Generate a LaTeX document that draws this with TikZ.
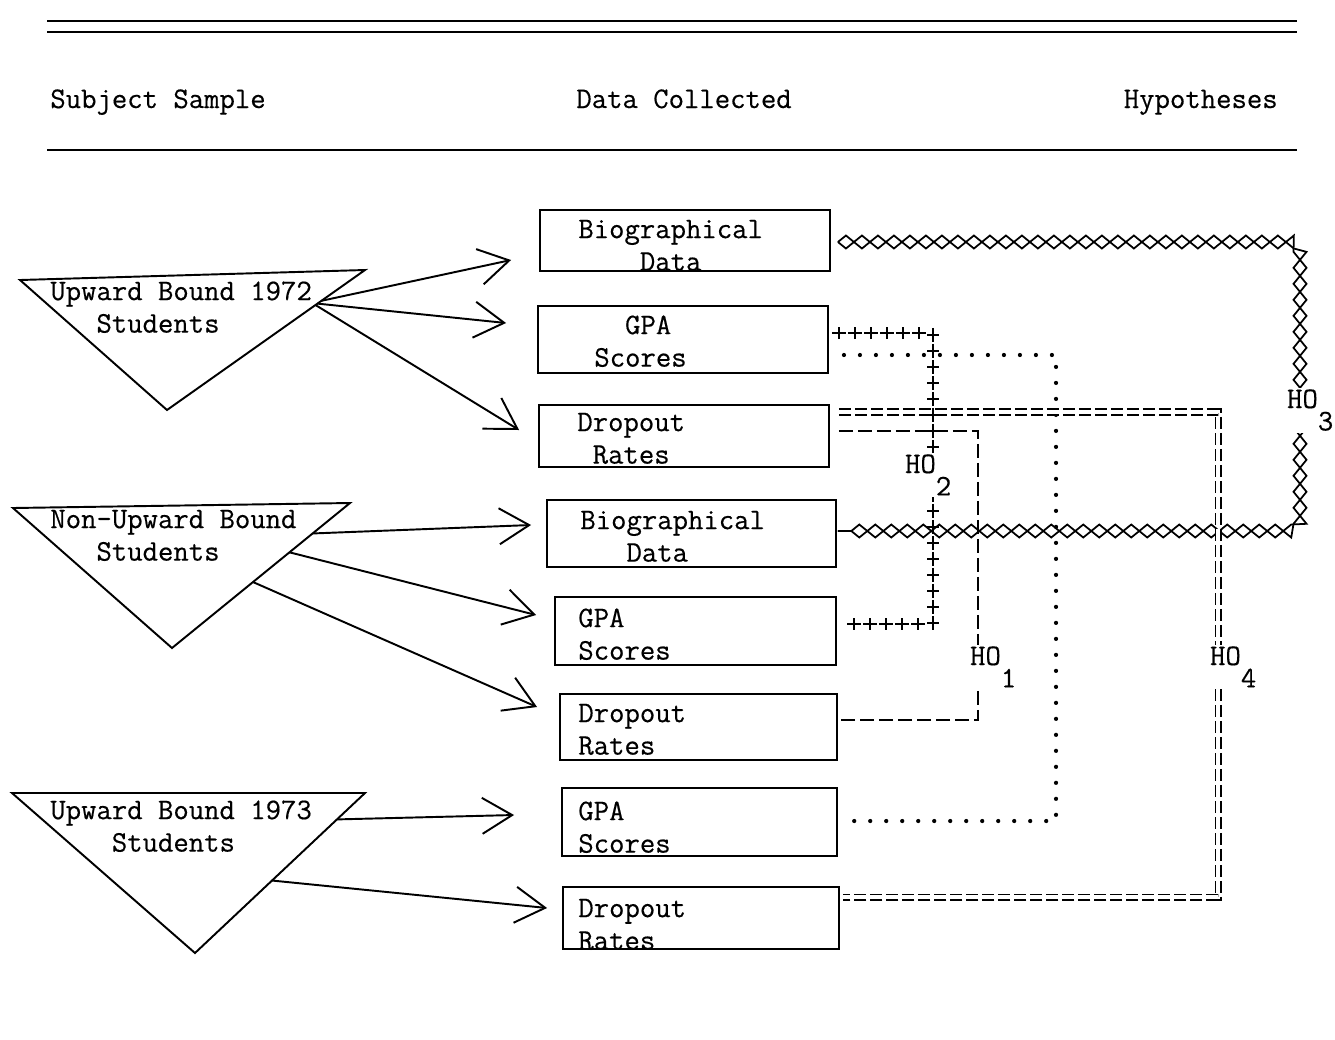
\documentclass[tikz,border=0pt]{standalone}
\usepackage{fontspec}
\setmonofont{Latin Modern Mono}[FakeBold=0.4]
\usetikzlibrary{arrows.meta,calc,decorations.pathmorphing,decorations.markings}
\begin{document}
\begin{tikzpicture}[x=0.02cm,y=-0.02cm,
 tt/.style={font=\ttfamily\fontsize{17}{18.5}\selectfont,inner sep=0pt},
 rule/.style={line width=1.3pt},
 sample/.style={line width=1.1pt},
 databox/.style={draw,line width=1.1pt,inner sep=0pt},
 feed/.style={line width=1.1pt,-{Straight Barb[length=0.6cm,width=0.72cm]}},
 holabel/.style={tt,fill=white,inner sep=1pt,anchor=base west},
 xline/.style={postaction={draw,line width=1pt,decorate,decoration={zigzag,segment length=0.64cm,amplitude=0.13cm}},
  postaction={draw,line width=1pt,decorate,decoration={zigzag,segment length=0.64cm,amplitude=0.13cm,mirror}}},
 plusline/.style={postaction={decorate,decoration={markings,mark=between positions 0 and 1 step 0.32cm with {\draw[line width=1.1pt] (-0.14cm,0pt) -- (0.14cm,0pt) (0pt,-0.12cm) -- (0pt,0.12cm);}}}},
 dotline/.style={line width=2.4pt,line cap=round,dash pattern=on 0pt off 0.32cm},
 dashline/.style={line width=1.2pt,dash pattern=on 0.28cm off 0.1cm},
 dblline/.style={double,line width=0.9pt,double distance=2.2pt,dash pattern=on 0.24cm off 0.08cm}]
 \useasboundingbox (0,0) rectangle (1335,1039);
 \draw[rule] (47,21) -- (1297,21);
 \draw[rule] (47,32) -- (1297,32);
 \draw[rule] (47,150) -- (1297,150);
 \node[tt,anchor=base west] (subj) at (50,108) {Subject Sample};
 \node[tt,anchor=base west] (coll) at (576,108) {Data Collected};
 \node[tt,anchor=base east] (hyps) at (1278,108) {Hypotheses};

 \coordinate (ub72l) at (20,280); \coordinate (ub72r) at (365,270); \coordinate (ub72b) at (167,410);
 \coordinate (nubl) at (13,508); \coordinate (nubr) at (350,503); \coordinate (nubb) at (172,648);
 \coordinate (ub73l) at (12,793); \coordinate (ub73r) at (365,793); \coordinate (ub73b) at (195,953);
 \draw[sample] (ub72l) -- (ub72r) -- (ub72b) -- cycle;
 \draw[sample] (nubl) -- (nubr) -- (nubb) -- cycle;
 \draw[sample] (ub73l) -- (ub73r) -- (ub73b) -- cycle;
 \node[tt,anchor=north west,align=left] (ub72) at (50,277) {\strut Upward Bound 1972\\\strut\phantom{xxx}Students};
 \node[tt,anchor=north west,align=left] (nub) at (50,505) {\strut Non-Upward Bound\\\strut\phantom{xxx}Students};
 \node[tt,anchor=north west,align=left] (ub73) at (50,796) {\strut Upward Bound 1973\\\strut\phantom{xxxx}Students};

 \node[databox,minimum width=5.8cm,minimum height=1.22cm] (bio72) at (685,240.5) {};
 \node[databox,minimum width=5.8cm,minimum height=1.34cm] (gpa72) at (683,339.5) {};
 \node[databox,minimum width=5.8cm,minimum height=1.24cm] (drop72) at (684,436) {};
 \node[databox,minimum width=5.78cm,minimum height=1.34cm] (bionub) at (691.5,533.5) {};
 \node[databox,minimum width=5.62cm,minimum height=1.36cm] (gpanub) at (695.5,631) {};
 \node[databox,minimum width=5.54cm,minimum height=1.32cm] (dropnub) at (698.5,727) {};
 \node[databox,minimum width=5.5cm,minimum height=1.36cm] (gpa73) at (699.5,822) {};
 \node[databox,minimum width=5.52cm,minimum height=1.24cm] (drop73) at (701,918) {};
 \node[tt,anchor=north west,align=left] (bio72t) at (578,215) {\strut Biographical\\\strut\phantom{xxxx}Data};
 \node[tt,anchor=north west,align=left] (gpa72t) at (594,311) {\strut\phantom{xx}GPA\\\strut Scores};
 \node[tt,anchor=north west,align=left] (drop72t) at (577,408) {\strut Dropout\\\strut\phantom{x}Rates};
 \node[tt,anchor=north west,align=left] (bionubt) at (580,506) {\strut Biographical\\\strut\phantom{xxx}Data};
 \node[tt,anchor=north west,align=left] (gpanubt) at (578,604) {\strut GPA\\\strut Scores};
 \node[tt,anchor=north west,align=left] (dropnubt) at (578,699) {\strut Dropout\\\strut Rates};
 \node[tt,anchor=north west,align=left] (gpa73t) at (578,797) {\strut GPA\\\strut Scores};
 \node[tt,anchor=north west,align=left] (drop73t) at (578,894) {\strut Dropout\\\strut Rates};

 \draw[feed] ($(ub72r)!0.22!(ub72b)$) -- ($(bio72.west)+(-28,19.5)$);
 \draw[feed] ($(ub72r)!0.24!(ub72b)$) -- ($(gpa72.west)+(-31,-16.5)$);
 \draw[feed] ($(ub72r)!0.25!(ub72b)$) -- ($(drop72.west)+(-19,-6)$);
 \draw[feed] ($(nubr)!0.21!(nubb)$) -- ($(bionub.west)+(-15,-8.5)$);
 \draw[feed] ($(nubr)!0.34!(nubb)$) -- ($(gpanub.west)+(-18,-16)$);
 \draw[feed] ($(nubr)!0.545!(nubb)$) -- ($(dropnub.west)+(-22,-20)$);
 \draw[feed] ($(ub73r)!0.165!(ub73b)$) -- ($(gpa73.west)+(-47,-7)$);
 \draw[feed] ($(ub73r)!0.547!(ub73b)$) -- ($(drop73.west)+(-15,-10)$);

 \coordinate (h1) at (978,650);
 \coordinate (h2) at (933,470);
 \coordinate (h3) at (1300,400);
 \coordinate (h4) at (1218,650);
 \coordinate (hd) at (1056,600);
 \path[xline] ($(bio72.east)+(7,1.5)$) -| (h3) |- ($(bionub.east)+(1,-2.5)$);
 \path[plusline] ($(gpa72.east)+(10,-6.5)$) -| (h2) |- ($(gpanub.east)+(3,-7)$);
 \draw[dotline] ($(gpa72.east)+(15,15.5)$) -| (hd) |- ($(gpa73.east)+(9,-1)$);
 \draw[dashline] ($(drop72.east)+(9,-5)$) -| (h1) |- ($(dropnub.east)+(3,-7)$);
 \draw[dblline] ($(drop72.east)+(9,-24)$) -| (h4) |- ($(drop73.east)+(3,-21)$);
 \node[holabel] (ho1) at (968,665) {HO\raisebox{-.75em}{1}};
 \node[holabel] (ho2) at (903,473) {HO\raisebox{-.75em}{2}};
 \node[holabel] (ho3) at (1285,408) {HO\raisebox{-.75em}{3}};
 \node[holabel] (ho4) at (1208,665) {HO\raisebox{-.75em}{4}};
\end{tikzpicture}
\end{document}
